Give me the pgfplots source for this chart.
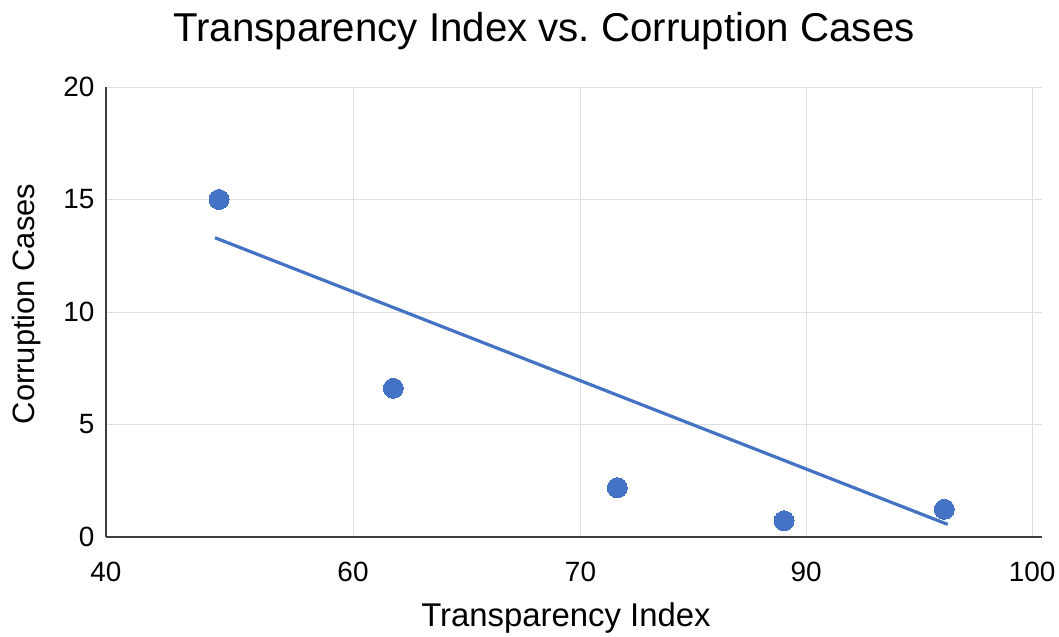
\documentclass[border=0pt]{standalone}
\usepackage{fontspec}
\setmainfont{Liberation Sans}
\usepackage{pgfplots}
\pgfplotsset{compat=1.18}
\definecolor{ptblue}{HTML}{4472C4}
\definecolor{gridgray}{HTML}{DEDEDE}
\definecolor{axgray}{HTML}{404040}
\frenchspacing
\begin{document}
\begin{tikzpicture}[x=1bp,y=1bp]
\path[use as bounding box] (0,0) rectangle (1059,637);
\begin{axis}[
  at={(106bp,100bp)}, anchor=south west,
  scale only axis, width=936bp, height=450bp,
  xmin=106, xmax=1042, ymin=0, ymax=20,
  xtick={106,353,580.5,806,1032},
  xticklabels={40,60,70,90,100},
  ytick={0,5,10,15,20},
  axis x line=bottom, axis y line=left,
  axis line style={axgray, line width=1.6bp, -},
  major tick length=0pt,
  grid=major,
  major grid style={gridgray, line width=0.9bp},
  /pgf/number format/assume math mode=true,
  tick label style={font=\fontsize{28}{33}\selectfont, text=black},
  xticklabel style={anchor=base, yshift=-45bp},
  yticklabel style={xshift=-8bp},
  clip=false,
]
\addplot[ptblue, line width=3.2bp, no marks] coordinates {(215,13.30) (947.7,0.56)};
\addplot[only marks, mark=*, mark size=10bp, mark options={fill=ptblue, draw=ptblue, line width=0pt}]
  coordinates {
    (219,15.00)
    (393.3,6.61)
    (617.3,2.19)
    (784,0.72)
    (944.3,1.23)
  };
\end{axis}
\node[anchor=base, font=\fontsize{40.4}{48}\selectfont] at (544,595) {Transparency Index vs. Corruption Cases};
\node[anchor=base, font=\fontsize{33}{40}\selectfont] at (566,10) {Transparency Index};
\node[anchor=base, rotate=90, font=\fontsize{31}{37}\selectfont] at (34,333) {Corruption Cases};
\end{tikzpicture}
\end{document}
